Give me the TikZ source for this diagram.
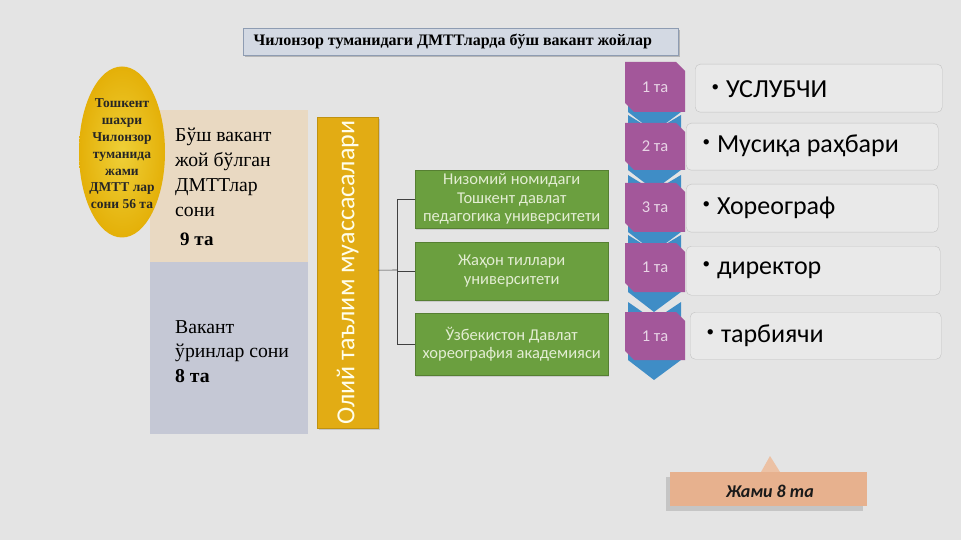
\documentclass[tikz,border=0pt]{standalone}
\usepackage{fontspec}
\setmainfont{Liberation Serif}
\newfontfamily\calfont{Carlito}
\usetikzlibrary{shapes.geometric,shadows,calc}
\definecolor{bgc}{HTML}{E4E4E4}
\definecolor{titlec}{HTML}{D3D9E3}
\definecolor{titled}{HTML}{8E9CB2}
\definecolor{goldc}{HTML}{E4B008}
\definecolor{beigec}{HTML}{E9D9C2}
\definecolor{slatec}{HTML}{C5C8D5}
\definecolor{barc}{HTML}{E2AC14}
\definecolor{greenc}{HTML}{6B9F3F}
\definecolor{greent}{HTML}{E3EDD3}
\definecolor{purplec}{HTML}{A3579A}
\definecolor{bluec}{HTML}{3F8DC6}
\definecolor{itemc}{HTML}{E9E9E9}
\definecolor{itemd}{HTML}{C2C2C2}
\definecolor{peachc}{HTML}{E7B18E}
\newcommand{\mybul}{\raisebox{6pt}{\fontsize{15}{15}\selectfont\textbullet}\hspace{7pt}}
\tikzset{
  px/.style={x=1pt,y=-1pt},
  leftbox/.style={draw=none,anchor=north west,inner sep=0pt},
  greenbox/.style={fill=greenc,draw=greenc!80!black,minimum width=193pt,anchor=north west,
     text=greent,font=\calfont\fontsize{16.5}{18.5}\selectfont,align=center,inner sep=0pt,
     drop shadow={opacity=0.25,shadow xshift=1pt,shadow yshift=-1.5pt}},
  itembox/.style={fill=itemc,draw=itemd,rounded corners=5pt,anchor=north west,inner sep=0pt},
  itemtext/.style={anchor=west,font=\calfont\fontsize{26}{28}\selectfont,text=black},
  cnt/.style={font=\calfont\fontsize{16.5}{18}\selectfont,text=purplec!25!white},
  conn/.style={draw=black!75,line width=0.6pt}
}
\begin{document}
\begin{tikzpicture}[px]
\fill[bgc] (0,0) rectangle (961,540);
\useasboundingbox (0,0) rectangle (961,540);

% title
\node[fill=titlec,draw=titled,line width=0.8pt,minimum width=435pt,minimum height=27pt,
  anchor=north west,inner sep=0pt,drop shadow={opacity=0.45,shadow xshift=2pt,shadow yshift=-2pt}]
  (title) at (243,28) {};
\node[anchor=west,font=\bfseries\fontsize{16}{18}\selectfont] (titletext) at (250,42)
  {Чилонзор туманидаги ДМТТларда бўш вакант жойлар};

% left boxes
\fill[beigec] (150,110) rectangle (308,262);
\fill[slatec] (150,262) rectangle (308,434);
\node[leftbox,align=left,font=\fontsize{19.7}{25}\selectfont] (bosh) at (175,128)
  {Бўш вакант\\жой бўлган\\ДМТТлар\\сони};
\node[leftbox,font=\bfseries\fontsize{19}{21}\selectfont] (nine) at (180,233) {9 та};
\node[leftbox,align=left,font=\fontsize{19.7}{24.5}\selectfont] (vak) at (175,320)
  {Вакант\\ўринлар сони\\\textbf{8 та}};

% ellipse
\node[ellipse,inner color=goldc!75!yellow!80!white,outer color=goldc,minimum width=86pt,minimum height=171pt,inner sep=0pt] (ell) at (122,152) {};
\node[align=center,font=\bfseries\fontsize{13.5}{16.8}\selectfont,text=black!85] (elltext) at (122,154)
  {Тошкент\\шахри\\Чилонзор\\туманида\\жами\\ДМТТ лар\\сони 56 та};

% vertical bar
\node[fill=barc,draw=barc!85!black,minimum width=61pt,minimum height=311pt,anchor=north west,
  inner sep=0pt,drop shadow={opacity=0.3,shadow xshift=1.5pt,shadow yshift=-1.5pt}] (bar) at (317,117) {};
\node[rotate=90,font=\calfont\fontsize{26}{28}\selectfont,text=white!92!yellow] (bartext) at (bar.center)
  {Олий таълим муассасалари};

% green boxes
\node[greenbox,minimum height=58pt] (g1) at (415,170)
  {Низомий номидаги\\Тошкент давлат\\педагогика университети};
\node[greenbox,minimum height=58pt] (g2) at (415,242)
  {Жаҳон тиллари\\университети};
\node[greenbox,minimum height=62pt] (g3) at (415,313)
  {Ўзбекистон Давлат\\хореография академияси};

\coordinate (j) at (397,270);
\draw[conn] ($(bar.east)+(0,-2.5)$) -- (j);
\draw[conn] (j) |- (g1.west);
\draw[conn] (j) |- (g2.west);
\draw[conn] (j) |- (g3.west);

% chevrons (blue) and counts (purple)
\foreach \t/\b/\n/\lab/\up in {62/112/c1/1 та/-12,123/170/c2/2 та/8,183/232/c3/3 та/8,243/292/c4/1 та/8,312/360/c5/1 та/10}{
  \fill[bluec] (628,\t-\up) -- (654,\t+8) -- (681,\t-\up) -- (681,\b) -- (654,\b+20) -- (628,\b) -- cycle;
  \fill[purplec] (625,\t) -- (676,\t) -- (685,\t+9) -- (685,\b) -- (634,\b) -- (625,\b-9) -- cycle;
  \node[cnt] (\n) at (655,{(\t+\b)/2}) {\lab};
}

% item boxes
\node[itembox,minimum width=247pt,minimum height=48pt] (i1) at (695,64) {};
\node[itemtext] (t1) at (708,89) {\mybul УСЛУБЧИ};
\node[itembox,minimum width=252pt,minimum height=47pt] (i2) at (686,123) {};
\node[itemtext] (t2) at (699,146) {\mybul Мусиқа раҳбари};
\node[itembox,minimum width=252pt,minimum height=48pt] (i3) at (686,184) {};
\node[itemtext] (t3) at (699,208) {\mybul Хореограф};
\node[itembox,minimum width=254pt,minimum height=49pt] (i4) at (686,246) {};
\node[itemtext] (t4) at (699,270) {\mybul директор};
\node[itembox,minimum width=251pt,minimum height=47pt] (i5) at (690,312) {};
\node[itemtext] (t5) at (703,336) {\mybul тарбиячи};

% total
\fill[peachc!80!white] (761,472) -- (770,456) -- (780,472) -- cycle;
\node[fill=peachc,minimum width=197pt,minimum height=34pt,anchor=north west,inner sep=0pt,
  drop shadow={opacity=0.3,shadow xshift=-4pt,shadow yshift=-5pt}] (tot) at (670,472) {};
\node[font=\calfont\bfseries\itshape\fontsize{18}{20}\selectfont,text=black!90] (tottext) at (770,491) {Жами 8 та};
\end{tikzpicture}
\end{document}
